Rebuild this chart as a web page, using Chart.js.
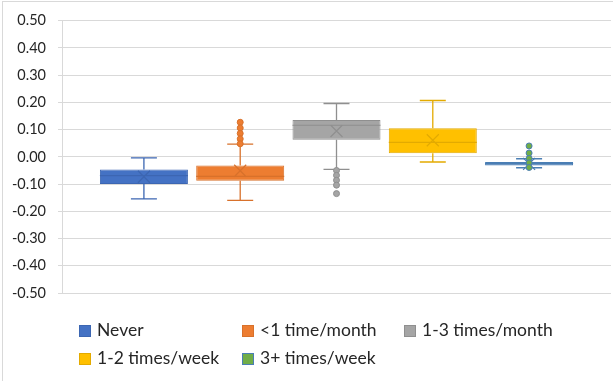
<!DOCTYPE html>
<html>
<head>
<meta charset="utf-8">
<script src="https://cdn.jsdelivr.net/npm/chart.js@4.4.1/dist/chart.umd.min.js"></script>
<style>
  body { margin: 0; background: #fff; }
  #wrap { position: relative; width: 613px; height: 381px; }
  #frame { position: absolute; left: 2px; top: 1px; right: 0; bottom: 0; border-left: 1px solid #d9d9d9; border-top: 1px solid #d9d9d9; pointer-events: none; }
  .legend { position: absolute; font-family: Lato, "Liberation Sans", sans-serif; font-size: 17.5px; color: #262626; white-space: nowrap; line-height: 20px; }
  .legend i { display: inline-block; width: 12px; height: 12px; margin-right: 6px; vertical-align: -1px; box-sizing: border-box; border: 1px solid; }
</style>
</head>
<body>
<div id="wrap">
  <canvas id="chart" width="613" height="381"></canvas>
  <div id="frame"></div>
  <div id="legend"></div>
</div>
<script>
// series (one box each)
const series = ['Never', '<1 time/month', '1-3 times/month', '1-2 times/week', '3+ times/week'];
const whiskerLow  = [-0.154, -0.160, -0.046, -0.019, -0.040];
const q1          = [-0.100, -0.088,  0.063,  0.013, -0.032];
const median      = [-0.069, -0.072,  0.116,  0.053, -0.025];
const q3          = [-0.046, -0.032,  0.135,  0.105, -0.019];
const whiskerHigh = [-0.004,  0.047,  0.196,  0.207, -0.007];
const mean        = [-0.073, -0.051,  0.095,  0.061, -0.026];
const outliers = [
    [],
    [0.127, 0.106, 0.086, 0.066, 0.048],
    [-0.050, -0.068, -0.086, -0.104, -0.135],
    [],
    [0.040, 0.014, -0.006, -0.022, -0.039]
];
const yTicks = [-0.5, -0.4, -0.3, -0.2, -0.1, 0, 0.1, 0.2, 0.3, 0.4, 0.5];

const fills = ['#4472C4', '#ED7D31', '#A5A5A5', '#FFC000', '#70AD47'];
const lines = ['#3C66B2', '#D8712B', '#8F8F8F', '#E3AA00', '#4A7EB4'];

// whiskers, median, mean marker and outliers drawn on top of the floating bars
const boxDetails = {
    id: 'boxDetails',
    afterDatasetsDraw(chart) {
        const ctx = chart.ctx;
        const y = chart.scales.y;
        chart.data.datasets.forEach((ds, i) => {
            const bar = chart.getDatasetMeta(i).data[0];
            const cx = bar.x, half = bar.width / 2, cap = 13;
            const yHi = y.getPixelForValue(whiskerHigh[i]);
            const yLo = y.getPixelForValue(whiskerLow[i]);
            const yQ1 = y.getPixelForValue(q1[i]);
            const yQ3 = y.getPixelForValue(q3[i]);
            const yMed = y.getPixelForValue(median[i]);
            const yMean = y.getPixelForValue(mean[i]);
            ctx.save();
            ctx.strokeStyle = lines[i];
            ctx.lineWidth = 1.3;
            ctx.beginPath();
            ctx.moveTo(cx, yQ3); ctx.lineTo(cx, yHi);
            ctx.moveTo(cx - cap, yHi); ctx.lineTo(cx + cap, yHi);
            ctx.moveTo(cx, yQ1); ctx.lineTo(cx, yLo);
            ctx.moveTo(cx - cap, yLo); ctx.lineTo(cx + cap, yLo);
            ctx.stroke();
            ctx.lineWidth = 1.2;
            ctx.beginPath();
            ctx.moveTo(cx - half, yMed); ctx.lineTo(cx + half, yMed);
            ctx.moveTo(cx - 6, yMean - 6); ctx.lineTo(cx + 6, yMean + 6);
            ctx.moveTo(cx + 6, yMean - 6); ctx.lineTo(cx - 6, yMean + 6);
            ctx.stroke();
            outliers[i].forEach(v => {
                ctx.beginPath();
                ctx.arc(cx, y.getPixelForValue(v), 3, 0, Math.PI * 2);
                ctx.fillStyle = fills[i];
                ctx.fill();
                ctx.lineWidth = 1;
                ctx.stroke();
            });
            ctx.restore();
        });
    }
};

new Chart(document.getElementById('chart'), {
    type: 'bar',
    data: {
        labels: [''],
        datasets: series.map((name, i) => ({
            label: name,
            data: [[q1[i], q3[i]]],
            backgroundColor: i === 4 ? lines[i] : fills[i],
            borderColor: lines[i],
            borderWidth: 1,
            borderSkipped: false,
            categoryPercentage: 0.877,
            barPercentage: 0.914
        }))
    },
    options: {
        responsive: false,
        animation: false,
        layout: { padding: { top: 20, bottom: 88, left: 0, right: 2 } },
        plugins: { legend: { display: false }, tooltip: { enabled: false } },
        scales: {
            x: { display: false },
            y: {
                min: -0.5,
                max: 0.5,
                afterBuildTicks: s => { s.ticks = yTicks.map(v => ({ value: v })); },
                afterFit: s => { s.width = 62; },
                ticks: {
                    padding: 12,
                    color: '#262626',
                    font: { family: 'Lato', size: 14.5 },
                    callback: v => v.toFixed(2)
                },
                grid: { color: '#d9d9d9', tickLength: 4 },
                border: { color: '#d9d9d9' }
            }
        }
    },
    plugins: [boxDetails]
});

// legend laid out in Excel-like columns
const legendPos = [[79, 330], [242, 330], [404, 330], [79, 358], [242, 358]];
const legend = document.getElementById('legend');
series.forEach((name, i) => {
    const d = document.createElement('div');
    d.className = 'legend';
    d.style.left = legendPos[i][0] + 'px';
    d.style.top = (legendPos[i][1] - 10) + 'px';
    const sq = document.createElement('i');
    sq.style.background = fills[i];
    sq.style.borderColor = lines[i];
    d.appendChild(sq);
    d.appendChild(document.createTextNode(name));
    legend.appendChild(d);
});
</script>
</body>
</html>
